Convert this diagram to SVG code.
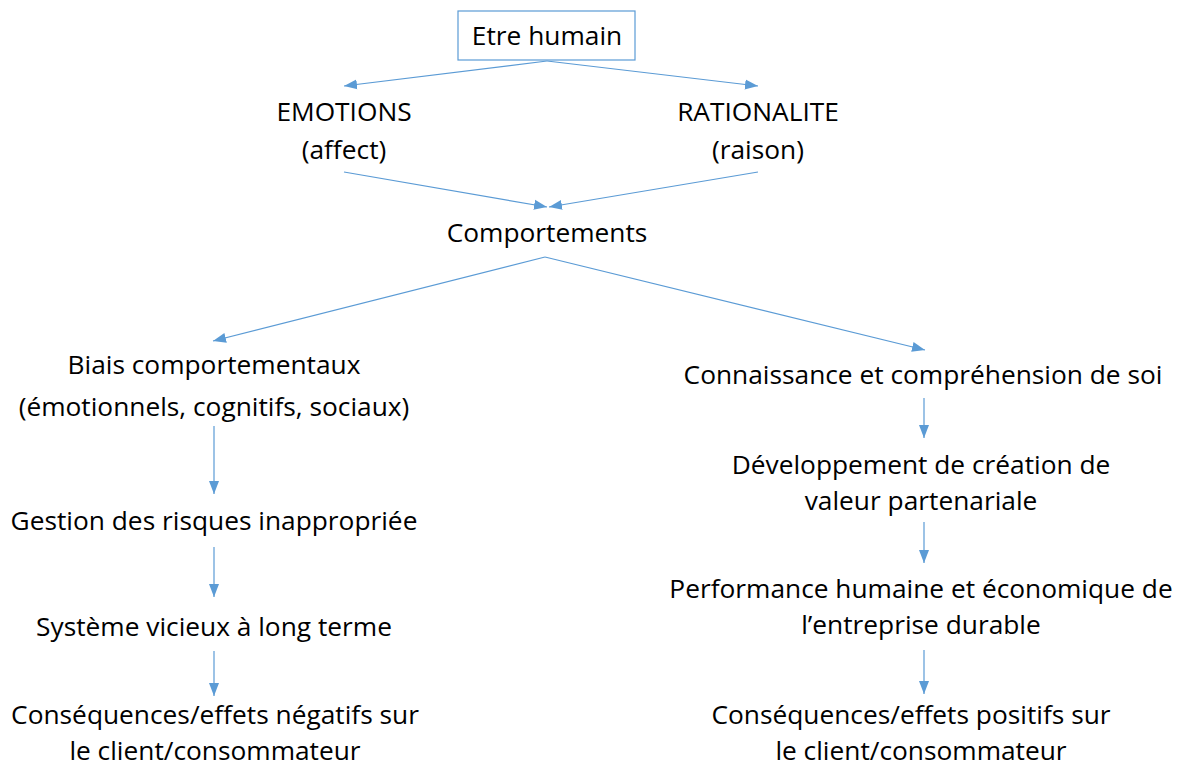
<svg xmlns="http://www.w3.org/2000/svg" width="1182" height="769" viewBox="0 0 1182 769">
  <style>
    .t { font-family: "Open Sans", "Liberation Sans", sans-serif; font-size: 26.3px; fill: #000; text-anchor: middle; }
    .c { stroke: #5B9BD5; stroke-width: 1.2; fill: none; marker-end: url(#arr); }
    .box { fill: #fff; stroke: #5B9BD5; stroke-width: 1.2; }
  </style>
  <defs>
    <marker id="arr" markerUnits="userSpaceOnUse" markerWidth="14" markerHeight="12" viewBox="0 0 14 12" refX="13" refY="6" orient="auto">
      <path d="M0,1 L13,6 L0,11 Z" fill="#5B9BD5"/>
    </marker>
  </defs>
  <rect width="1182" height="769" fill="#fff"/>

  <!-- connectors -->
  <g id="connectors">
    <line class="c" x1="547" y1="61" x2="344" y2="86"/>
    <line class="c" x1="547" y1="61" x2="758" y2="86"/>
    <line class="c" x1="344" y1="172" x2="547" y2="207"/>
    <line class="c" x1="758" y1="172" x2="549" y2="207"/>
    <line class="c" x1="545" y1="257" x2="213" y2="341"/>
    <line class="c" x1="545" y1="257" x2="925" y2="350"/>
    <line class="c" x1="214" y1="426" x2="214" y2="494"/>
    <line class="c" x1="214" y1="547" x2="214" y2="597"/>
    <line class="c" x1="214" y1="651" x2="214" y2="696"/>
    <line class="c" x1="924" y1="398" x2="924" y2="438"/>
    <line class="c" x1="924" y1="522" x2="924" y2="563"/>
    <line class="c" x1="924" y1="650" x2="924" y2="694"/>
  </g>

  <g id="etre-humain">
    <rect class="box" x="458" y="11" width="177" height="49"/>
    <text class="t" x="547" y="45">Etre humain</text>
  </g>
  <g id="emotions">
    <text class="t" x="344" y="121">EMOTIONS</text>
    <text class="t" x="344" y="159">(affect)</text>
  </g>
  <g id="rationalite">
    <text class="t" x="758" y="121">RATIONALITE</text>
    <text class="t" x="758" y="159">(raison)</text>
  </g>
  <g id="comportements">
    <text class="t" x="547" y="242">Comportements</text>
  </g>
  <g id="biais">
    <text class="t" x="214" y="374">Biais comportementaux</text>
    <text class="t" x="214" y="416">(émotionnels, cognitifs, sociaux)</text>
  </g>
  <g id="gestion">
    <text class="t" x="214" y="530">Gestion des risques inappropriée</text>
  </g>
  <g id="systeme">
    <text class="t" x="214" y="636">Système vicieux à long terme</text>
  </g>
  <g id="consequences-negatives">
    <text class="t" x="215" y="724">Conséquences/effets négatifs sur</text>
    <text class="t" x="215" y="760">le client/consommateur</text>
  </g>
  <g id="connaissance">
    <text class="t" x="923" y="384">Connaissance et compréhension de soi</text>
  </g>
  <g id="developpement">
    <text class="t" x="921" y="474">Développement de création de</text>
    <text class="t" x="921" y="510">valeur partenariale</text>
  </g>
  <g id="performance">
    <text class="t" x="921" y="598">Performance humaine et économique de</text>
    <text class="t" x="921" y="634">l’entreprise durable</text>
  </g>
  <g id="consequences-positives">
    <text class="t" x="911" y="724">Conséquences/effets positifs sur</text>
    <text class="t" x="921" y="760">le client/consommateur</text>
  </g>
</svg>
